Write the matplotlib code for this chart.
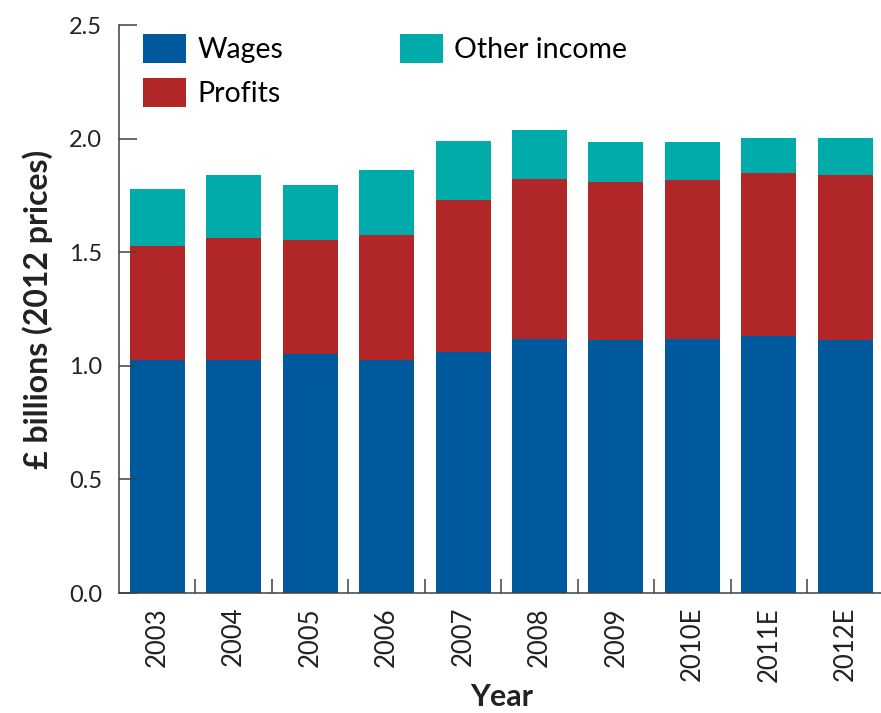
import matplotlib
matplotlib.use("Agg")
import matplotlib.pyplot as plt
import numpy as np

# Income split, £ billions at 2012 prices (E = estimate)
years = ["2003", "2004", "2005", "2006", "2007", "2008", "2009",
         "2010E", "2011E", "2012E"]
wages = [1.026, 1.026, 1.052, 1.026, 1.061, 1.117, 1.114, 1.117, 1.132, 1.114]
profits = [0.500, 0.536, 0.500, 0.548, 0.667, 0.704, 0.695, 0.701, 0.715, 0.724]
other_income = [0.251, 0.276, 0.242, 0.286, 0.260, 0.215, 0.174, 0.165, 0.154, 0.163]

C_WAGES = "#00599C"
C_PROFITS = "#B12626"
C_OTHER = "#00ABA9"
AXIS_GREY = "#404040"
TEXT = "#222222"

plt.rcParams["font.family"] = ["Lato", "DejaVu Sans"]

fig = plt.figure(figsize=(8.81, 7.13), dpi=100)
ax = fig.add_axes([119 / 881, 120 / 713, (883.5 - 119) / 881, (593 - 25) / 713])

x = np.arange(len(years))
w = 0.72
wages_a = np.array(wages)
profits_a = np.array(profits)
other_a = np.array(other_income)

ax.bar(x, wages_a, w, color=C_WAGES, label="Wages")
ax.bar(x, profits_a, w, bottom=wages_a, color=C_PROFITS, label="Profits")
ax.bar(x, other_a, w, bottom=wages_a + profits_a, color=C_OTHER,
       label="Other income")

ax.set_xlim(-0.5, len(years) - 0.5)
ax.set_ylim(0, 2.5)
yt = [0.0, 0.5, 1.0, 1.5, 2.0, 2.5]
ax.set_yticks(yt)
ax.set_yticklabels([f"{v:.1f}" for v in yt])

ax.set_xticks(x)
ax.set_xticklabels(years, rotation=90, va="top", ha="center")
ax.set_xticks(x[:-1] + 0.5, minor=True)

ax.tick_params(axis="y", direction="in", length=13, width=1.1,
               color=AXIS_GREY, pad=12, labelsize=17, labelcolor=TEXT)
ax.tick_params(axis="x", which="major", length=0, pad=10,
               labelsize=18.5, labelcolor=TEXT)
ax.tick_params(axis="x", which="minor", direction="in", length=10,
               width=1.1, color=AXIS_GREY)

for side in ("top", "right"):
    ax.spines[side].set_visible(False)
for side in ("left", "bottom"):
    ax.spines[side].set_color(AXIS_GREY)
    ax.spines[side].set_linewidth(1.1)

ax.set_ylabel("£ billions (2012 prices)", fontsize=23, fontweight="bold",
              labelpad=12, color=TEXT)
ax.set_xlabel("Year", fontsize=22, fontweight="bold", labelpad=1,
              color=TEXT)

ax.legend(ncol=2, loc="upper left", bbox_to_anchor=(0.017, 1.005),
          frameon=False, fontsize=20.5, handlelength=1.5, handleheight=1.19,
          handletextpad=0.4, columnspacing=4.1, labelspacing=0.55,
          borderaxespad=0.0)

fig.savefig("out.png", dpi=100)
